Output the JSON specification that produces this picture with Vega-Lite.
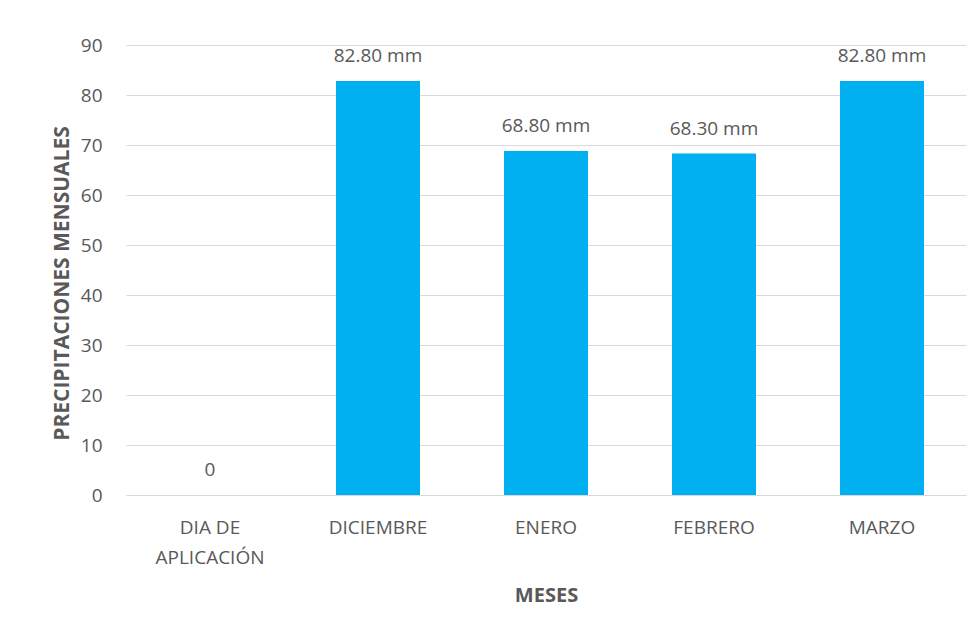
{
  "$schema": "https://vega.github.io/schema/vega-lite/v6.json",
  "width": 840,
  "height": 450,
  "autosize": {"type": "none"},
  "padding": {"left": 126, "top": 45, "right": 12, "bottom": 138},
  "background": "white",
  "config": {
    "view": {"stroke": null},
    "font": "Open Sans"
  },
  "data": {
    "values": [
      {"mes": "DIA DE APLICACIÓN", "valor": 0, "etiqueta": "0"},
      {"mes": "DICIEMBRE", "valor": 82.8, "etiqueta": "82.80 mm"},
      {"mes": "ENERO", "valor": 68.8, "etiqueta": "68.80 mm"},
      {"mes": "FEBRERO", "valor": 68.3, "etiqueta": "68.30 mm"},
      {"mes": "MARZO", "valor": 82.8, "etiqueta": "82.80 mm"}
    ]
  },
  "encoding": {
    "x": {
      "field": "mes",
      "type": "nominal",
      "sort": null,
      "scale": {"paddingInner": 0.5, "paddingOuter": 0.25},
      "axis": {
        "title": "MESES",
        "titleFont": "Open Sans",
        "titleFontSize": 20,
        "titleFontWeight": "bold",
        "titleColor": "#595959",
        "titlePadding": 18,
        "labelAngle": 0,
        "labelFontSize": 19,
        "labelColor": "#595959",
        "labelPadding": 23,
        "labelExpr": "datum.value == 'DIA DE APLICACIÓN' ? ['DIA DE', 'APLICACIÓN'] : datum.value",
        "labelLineHeight": 30,
        "ticks": false,
        "domain": true,
        "domainColor": "#d9d9d9",
        "grid": false
      }
    },
    "y": {
      "field": "valor",
      "type": "quantitative",
      "scale": {"domain": [0, 90]},
      "axis": {
        "title": "PRECIPITACIONES MENSUALES",
        "titleFont": "Open Sans",
        "titleFontSize": 21,
        "titleFontWeight": "bold",
        "titleColor": "#595959",
        "titlePadding": 8,
        "titleY": 238,
        "values": [0, 10, 20, 30, 40, 50, 60, 70, 80, 90],
        "labelFontSize": 19,
        "labelColor": "#595959",
        "labelPadding": 24,
        "ticks": false,
        "domain": false,
        "grid": true,
        "gridColor": "#d9d9d9",
        "gridWidth": 1
      }
    }
  },
  "layer": [
    {"mark": {"type": "bar", "color": "#00B0F0"}},
    {
      "mark": {"type": "text", "dy": -25, "fontSize": 19, "color": "#595959", "font": "Open Sans"},
      "encoding": {"text": {"field": "etiqueta"}}
    }
  ]
}
